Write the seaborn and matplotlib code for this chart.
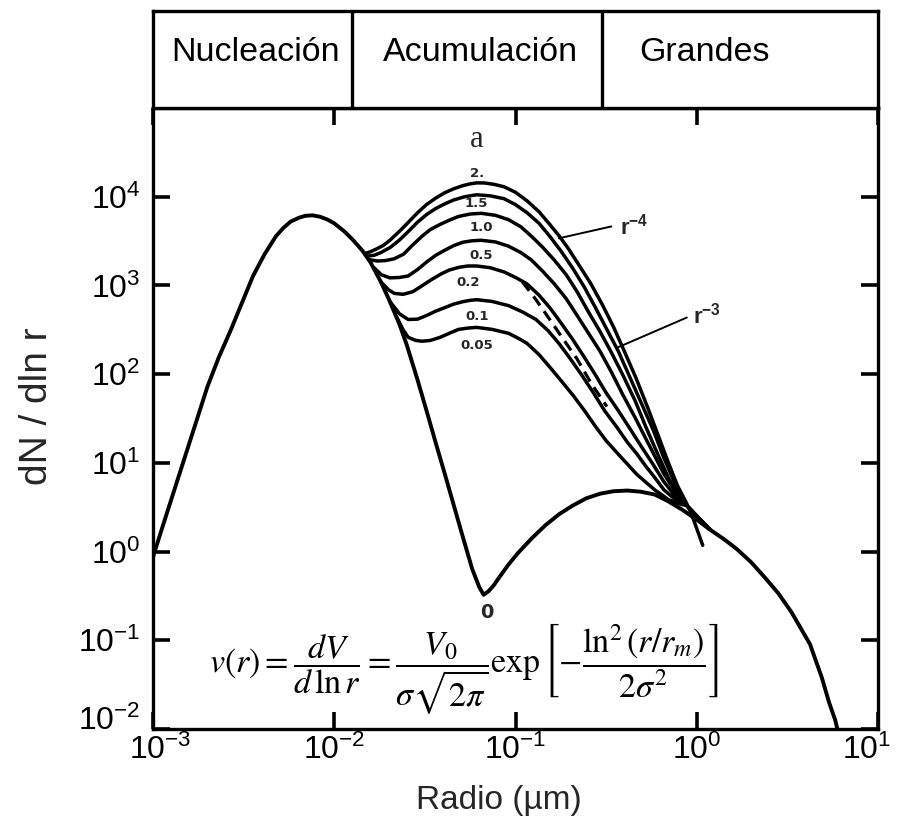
import numpy as np
import matplotlib
matplotlib.use("Agg")
import matplotlib.pyplot as plt
from matplotlib.ticker import FixedLocator, NullLocator, LogFormatterMathtext
from matplotlib.transforms import ScaledTranslation
import seaborn as sns

# ---------------------------------------------------------------------------
# Size distributions, stored as log10(radius / µm) and log10(dN/dln r)
# ---------------------------------------------------------------------------
# a = 0 : nucleation mode plus coarse mode only
base_log_r = [-3.0, -2.952, -2.889, -2.826, -2.763, -2.700, -2.637, -2.574, -2.511,
              -2.448, -2.385, -2.322, -2.28, -2.24, -2.196, -2.159, -2.12, -2.08,
              -2.04, -2.00, -1.945, -1.90, -1.844, -1.80, -1.743, -1.70, -1.642,
              -1.60, -1.542, -1.491, -1.441, -1.390, -1.340, -1.290, -1.239, -1.20,
              -1.176, -1.15, -1.12, -1.088, -1.04, -0.987, -0.91, -0.836, -0.76,
              -0.685, -0.61, -0.534, -0.46, -0.383, -0.31, -0.232, -0.16, -0.081,
              0.0, 0.071, 0.15, 0.222, 0.30, 0.373, 0.45, 0.524, 0.625, 0.69,
              0.73, 0.764, 0.79]
base_log_n = [-0.06, 0.25, 0.652, 1.054, 1.455, 1.857, 2.19, 2.482, 2.795,
              3.107, 3.35, 3.554, 3.65, 3.72, 3.762, 3.785, 3.79, 3.775,
              3.745, 3.70, 3.61, 3.52, 3.39, 3.26, 3.04, 2.85, 2.571,
              2.33, 1.946, 1.589, 1.232, 0.875, 0.518, 0.161, -0.196, -0.40,
              -0.487, -0.45, -0.38, -0.286, -0.15, -0.018, 0.15, 0.295, 0.42,
              0.518, 0.60, 0.652, 0.68, 0.688, 0.675, 0.643, 0.57, 0.473,
              0.36, 0.25, 0.14, 0.027, -0.12, -0.286, -0.47, -0.688, -1.045, -1.42,
              -1.70, -1.90, -2.12]

# accumulation-mode family, labelled by the parameter a
a20_log_r = [-1.831, -1.80, -1.768, -1.73, -1.693, -1.64, -1.592, -1.54, -1.491, -1.44,
             -1.390, -1.34, -1.290, -1.25, -1.214, -1.17, -1.12, -1.063, -1.00, -0.937,
             -0.87, -0.811, -0.76, -0.710, -0.65, -0.584, -0.52, -0.458, -0.40, -0.333,
             -0.27, -0.207, -0.16, -0.106, -0.06, -0.030, 0.033]
a20_log_n = [3.36, 3.38, 3.41, 3.45, 3.509, 3.61, 3.710, 3.82, 3.911, 3.985,
             4.045, 4.09, 4.125, 4.145, 4.156, 4.155, 4.14, 4.112, 4.05, 3.955,
             3.83, 3.688, 3.56, 3.420, 3.23, 3.018, 2.78, 2.527, 2.26, 1.946,
             1.62, 1.277, 1.02, 0.741, 0.56, 0.429, 0.071]

a15_log_r = [-1.819, -1.78, -1.743, -1.69, -1.642, -1.59, -1.542, -1.49, -1.441, -1.39,
             -1.340, -1.28, -1.214, -1.14, -1.063, -1.00, -0.937, -0.87, -0.811, -0.75,
             -0.685, -0.62, -0.559, -0.50, -0.433, -0.37, -0.307, -0.24, -0.181, -0.14,
             -0.106, -0.055, 0.071]
a15_log_n = [3.33, 3.34, 3.37, 3.43, 3.509, 3.61, 3.710, 3.80, 3.866, 3.92,
             3.964, 4.00, 4.022, 4.01, 3.978, 3.91, 3.821, 3.70, 3.554, 3.39,
             3.196, 2.98, 2.750, 2.52, 2.259, 1.97, 1.679, 1.37, 1.054, 0.86,
             0.696, 0.518, 0.25]

a10_log_r = [-1.806, -1.76, -1.718, -1.67, -1.617, -1.57, -1.516, -1.47, -1.416, -1.36,
             -1.315, -1.25, -1.189, -1.11, -1.038, -0.97, -0.912, -0.85, -0.786, -0.72,
             -0.660, -0.60, -0.534, -0.47, -0.408, -0.34, -0.282, -0.22, -0.156, -0.11,
             -0.055, 0.071]
a10_log_n = [3.29, 3.275, 3.28, 3.30, 3.353, 3.45, 3.554, 3.63, 3.688, 3.74,
             3.777, 3.805, 3.813, 3.79, 3.741, 3.66, 3.554, 3.43, 3.286, 3.12,
             2.929, 2.71, 2.482, 2.24, 1.991, 1.70, 1.411, 1.12, 0.830, 0.66,
             0.518, 0.25]

a05_log_r = [-1.781, -1.74, -1.693, -1.64, -1.592, -1.54, -1.491, -1.44, -1.390, -1.34,
             -1.290, -1.24, -1.189, -1.11, -1.038, -0.97, -0.912, -0.85, -0.786, -0.72,
             -0.660, -0.60, -0.534, -0.47, -0.408, -0.34, -0.282, -0.23, -0.181, -0.12,
             -0.055, 0.071]
a05_log_n = [3.20, 3.12, 3.085, 3.09, 3.107, 3.18, 3.263, 3.34, 3.397, 3.45,
             3.487, 3.503, 3.509, 3.49, 3.442, 3.37, 3.286, 3.16, 3.018, 2.85,
             2.661, 2.47, 2.259, 2.02, 1.768, 1.51, 1.277, 1.07, 0.875, 0.68,
             0.518, 0.25]

a02_log_r = [-1.743, -1.70, -1.668, -1.62, -1.567, -1.52, -1.466, -1.41, -1.365, -1.31,
             -1.264, -1.214, -1.14, -1.063, -1.00, -0.937, -0.87, -0.811, -0.75, -0.685,
             -0.62, -0.559, -0.50, -0.433, -0.37, -0.307, -0.24, -0.181, -0.12, -0.055,
             0.071]
a02_log_n = [3.04, 2.95, 2.91, 2.90, 2.929, 2.99, 3.063, 3.13, 3.174, 3.205,
             3.219, 3.219, 3.20, 3.152, 3.09, 3.018, 2.89, 2.750, 2.58, 2.393,
             2.19, 1.991, 1.79, 1.589, 1.39, 1.188, 0.98, 0.786, 0.63, 0.518,
             0.25]

a01_log_r = [-1.693, -1.64, -1.592, -1.54, -1.491, -1.44, -1.390, -1.34, -1.290, -1.25,
             -1.214, -1.13, -1.038, -0.96, -0.887, -0.82, -0.761, -0.70, -0.635, -0.57,
             -0.509, -0.44, -0.383, -0.33, -0.282, -0.23, -0.181, -0.12, -0.055, 0.071]
a01_log_n = [2.82, 2.68, 2.616, 2.62, 2.661, 2.71, 2.750, 2.79, 2.817, 2.832,
             2.839, 2.82, 2.772, 2.70, 2.616, 2.49, 2.348, 2.18, 1.991, 1.79,
             1.589, 1.40, 1.232, 1.10, 0.964, 0.83, 0.696, 0.59, 0.518, 0.25]

a005_log_r = [-1.655, -1.62, -1.592, -1.55, -1.516, -1.47, -1.416, -1.36, -1.315, -1.26,
              -1.214, -1.13, -1.038, -0.99, -0.937, -0.87, -0.811, -0.75, -0.685, -0.62,
              -0.559, -0.50, -0.433, -0.38, -0.333, -0.28, -0.232, -0.19, -0.156, -0.10,
              -0.055, 0.071]
a005_log_n = [2.64, 2.50, 2.415, 2.38, 2.371, 2.38, 2.415, 2.465, 2.504, 2.52,
              2.527, 2.505, 2.460, 2.41, 2.348, 2.22, 2.080, 1.93, 1.768, 1.59,
              1.411, 1.25, 1.098, 0.98, 0.875, 0.78, 0.696, 0.635, 0.585, 0.54,
              0.518, 0.25]

a_labels = ["2.", "1.5", "1.0", "0.5", "0.2", "0.1", "0.05"]

# dashed reference curve
dashed_log_r = [-0.962, -0.887, -0.811, -0.736, -0.660, -0.584, -0.496]
dashed_log_n = [3.04, 2.839, 2.616, 2.393, 2.17, 1.902, 1.634]

# leader lines of the power-law slope labels
r4_log_r = [-0.761, -0.471]
r4_log_n = [3.531, 3.665]
r3_log_r = [-0.433, -0.055]
r3_log_n = [2.304, 2.638]

# size ranges (µm) shown in the top band
region_names = ["Nucleación", "Acumulación", "Grandes"]
region_edges = [0.0125, 0.30]

x_ticks = [1e-3, 1e-2, 1e-1, 1e0, 1e1]
y_ticks = [1e-2, 1e-1, 1e0, 1e1, 1e2, 1e3, 1e4]

# ---------------------------------------------------------------------------
sns.set_theme(style="ticks")
plt.rcParams["font.family"] = ["Liberation Sans", "DejaVu Sans"]
plt.rcParams["mathtext.fontset"] = "custom"
plt.rcParams["mathtext.rm"] = "Liberation Sans"
plt.rcParams["mathtext.it"] = "Liberation Sans:italic"
plt.rcParams["mathtext.bf"] = "Liberation Sans:bold"
plt.rcParams["lines.solid_joinstyle"] = "round"
plt.rcParams["lines.solid_capstyle"] = "round"

W, H = 898, 821
fig = plt.figure(figsize=(W / 100, H / 100), dpi=100)
fig.patch.set_facecolor("white")

ax = fig.add_axes([153 / W, 1 - 729 / H, 725 / W, 621 / H])
band = fig.add_axes([153 / W, 1 - 108 / H, 725 / W, 97 / H])

ax.set_xscale("log")
ax.set_yscale("log")
ax.set_xlim(1e-3, 1e1)
ax.set_ylim(1e-2, 1e5)


def draw(lr, ln, lw=2.6):
    sns.lineplot(x=10 ** np.asarray(lr), y=10 ** np.asarray(ln), ax=ax, color="black",
                 linewidth=lw, estimator=None, sort=False, legend=False)
    return ax.lines[-1]


draw(base_log_r, base_log_n, lw=2.8)
family = [(a20_log_r, a20_log_n), (a15_log_r, a15_log_n), (a10_log_r, a10_log_n),
          (a05_log_r, a05_log_n), (a02_log_r, a02_log_n), (a01_log_r, a01_log_n),
          (a005_log_r, a005_log_n)]
for lr, ln in family:
    draw(lr, ln, lw=2.5)
dash_line = draw(dashed_log_r, dashed_log_n, lw=2.3)
dash_line.set_dashes([3.5, 2.2])
draw(r4_log_r, r4_log_n, lw=1.4)
draw(r3_log_r, r3_log_n, lw=1.4)

# curve labels, centred on the accumulation-mode maximum of each curve
offsets = [7, -6, -10, -11, -12, -12, -13]
for (lr, ln), lab, dy in zip(family, a_labels, offsets):
    lr_arr, ln_arr = np.asarray(lr), np.asarray(ln)
    mask = lr_arr > -1.5
    i = int(np.argmax(np.where(mask, ln_arr, -np.inf)))
    ax.annotate(lab, (10 ** lr_arr[i], 10 ** ln_arr[i]), xytext=(0, dy),
                textcoords="offset points", ha="center", va="center", fontsize=9.5,
                fontweight="bold", family=["DejaVu Sans"])
i_top = int(np.argmax(a20_log_n))
ax.annotate("a", (10 ** a20_log_r[i_top], 10 ** a20_log_n[i_top]), xytext=(0, 31),
            textcoords="offset points", ha="center", va="center", fontsize=22,
            family=["Liberation Serif", "DejaVu Serif"])
i_min = int(np.argmin(base_log_n[:45]))
ax.annotate("0", (10 ** base_log_r[i_min], 10 ** base_log_n[i_min]), xytext=(2, -13),
            textcoords="offset points", ha="center", va="center", fontsize=14,
            fontweight="bold", family=["DejaVu Sans"])

ax.text(10 ** -0.426, 10 ** 3.576, r"$\mathbf{r^{-4}}$", fontsize=16, va="baseline", ha="left")
ax.text(10 ** -0.023, 10 ** 2.571, r"$\mathbf{r^{-3}}$", fontsize=16, va="baseline", ha="left")

# volume distribution formula
eq = (r"$v\left(r\right)=\dfrac{dV}{d\,\ln r}=\dfrac{V_0}{\sigma\sqrt{2\pi}}"
      r"\exp\left[-\dfrac{\ln^2\left(r/r_m\right)}{2\sigma^2}\right]$")
ax.text(0.428, 0.096, eq, transform=ax.transAxes, ha="center", va="center",
        fontsize=24.5, math_fontfamily="stix", color="black")

# axes styling
ax.xaxis.set_major_locator(FixedLocator(x_ticks))
ax.yaxis.set_major_locator(FixedLocator(y_ticks))
ax.xaxis.set_major_formatter(LogFormatterMathtext())
ax.yaxis.set_major_formatter(LogFormatterMathtext())
ax.xaxis.set_minor_locator(NullLocator())
ax.yaxis.set_minor_locator(NullLocator())
ax.tick_params(axis="both", which="major", direction="in", length=12, width=2.6,
               top=True, right=True, colors="black", labelsize=23)
ax.tick_params(axis="y", pad=9)
ax.tick_params(axis="x", pad=4)
for s in ax.spines.values():
    s.set_linewidth(2.4)
    s.set_color("black")
ax.set_xlabel("Radio (µm)", fontsize=24)
ax.set_ylabel("dN / dln r", fontsize=28)
ax.xaxis.set_label_coords(0.477, -0.09)
ax.yaxis.set_label_coords(-0.135, 0.52)
ax.grid(False)

# keep the corner tick labels clear of each other and of the figure edge
fig.canvas.draw()
xt = ax.xaxis.get_major_ticks()
yt = ax.yaxis.get_major_ticks()
xt[0].label1.set_transform(xt[0].label1.get_transform()
                           + ScaledTranslation(5 / 72, 0, fig.dpi_scale_trans))
xt[-1].label1.set_transform(xt[-1].label1.get_transform()
                            + ScaledTranslation(-8 / 72, 0, fig.dpi_scale_trans))
yt[0].label1.set_transform(yt[0].label1.get_transform()
                           + ScaledTranslation(0, 8 / 72, fig.dpi_scale_trans))

# size-range band above the plot
band.set_xscale("log")
band.set_xlim(1e-3, 1e1)
band.set_ylim(0, 1)
band.xaxis.set_major_locator(NullLocator())
band.xaxis.set_minor_locator(NullLocator())
band.yaxis.set_major_locator(NullLocator())
for s in band.spines.values():
    s.set_linewidth(2.4)
    s.set_color("black")
for edge in region_edges:
    band.axvline(edge, color="black", linewidth=2.4)
for name, xf in zip(region_names, [0.141, 0.452, 0.761]):
    band.text(xf, 0.57, name, transform=band.transAxes, ha="center", va="center",
              fontsize=24.5, color="black")

fig.savefig("out.png", dpi=100, facecolor="white")
